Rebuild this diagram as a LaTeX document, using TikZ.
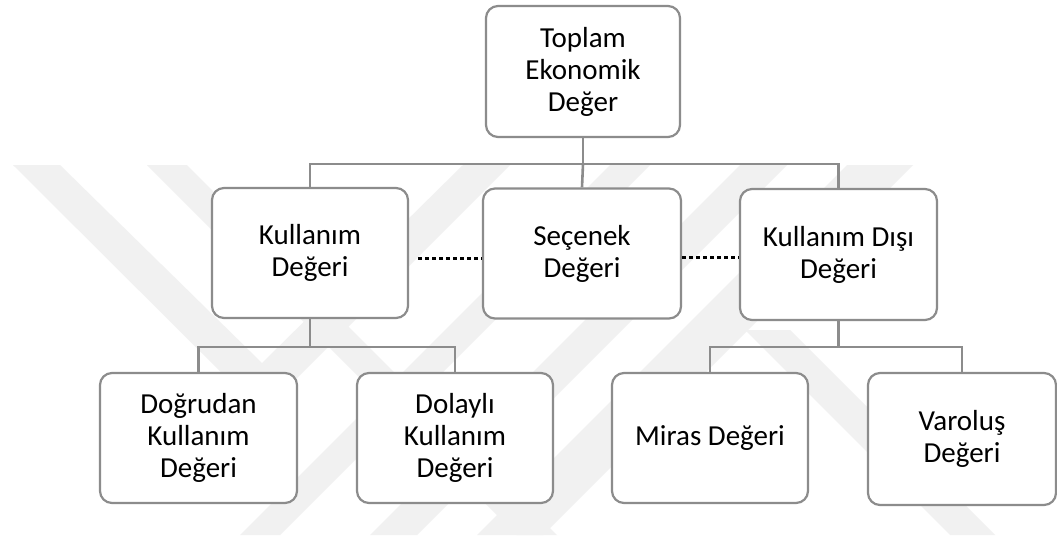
\documentclass[tikz,border=0pt]{standalone}
\usepackage{fontspec}
\setmainfont{Carlito}
\usetikzlibrary{calc}

\definecolor{boxline}{HTML}{8C8C8C}
\definecolor{wmark}{HTML}{F1F1F1}

\tikzset{
  box/.style={draw=boxline, line width=2.2pt, rounded corners=12pt, fill=white,
    minimum width=196pt, minimum height=130pt, align=center, inner sep=4pt,
    font=\fontsize{29}{32}\selectfont},
  conn/.style={draw=boxline, line width=2.6pt},
  link/.style={draw=black, line width=3pt, dash pattern=on 4pt off 3pt},
  band/.style={fill=wmark, draw=none}
}

\begin{document}
\begin{tikzpicture}[x=1pt,y=-1pt]
  \useasboundingbox (0,0) rectangle (1057,539);
  \fill[white] (0,0) rectangle (1057,539);

  % faint background emblem made of diagonal bands
  \begin{scope}
    \clip (0,165) rectangle (1057,535);
    \fill[band] (13,165) -- (60,165) -- (262,363) -- (463,165) -- (510,165) -- (262,413) -- cycle;
    \fill[band] (147,165) -- (187,165) -- (557,535) -- (517,535) -- cycle;
    \fill[band] (610,165) -- (650,165) -- (280,535) -- (240,535) -- cycle;
    \fill[band] (740,165) -- (787,165) -- (417,535) -- (370,535) -- cycle;
    \fill[band] (847,165) -- (913,165) -- (543,535) -- (477,535) -- cycle;
    \fill[band] (745,330) -- (790,330) -- (995,535) -- (950,535) -- cycle;
  \end{scope}

  % boxes
  \node[box, minimum width=194pt, minimum height=131pt] (top) at (583,71.5) {Toplam\\Ekonomik\\Değer};
  \node[box] (kul) at (310,253) {Kullanım\\Değeri};
  \node[box, minimum width=198pt] (sec) at (582,253.5) {Seçenek\\Değeri};
  \node[box, minimum width=197pt, minimum height=131pt] (dis) at (838.5,254.5) {Kullanım Dışı\\Değeri};
  \node[box, minimum width=197pt] (dog) at (198.5,438) {Doğrudan\\Kullanım\\Değeri};
  \node[box] (dol) at (455,438) {Dolaylı\\Kullanım\\Değeri};
  \node[box] (mir) at (710,438) {Miras Değeri};
  \node[box, minimum width=188pt, minimum height=132pt] (var) at (962,439) {Varoluş\\Değeri};

  % tree connectors
  \draw[conn] (top.south) -- ++(0,26) coordinate (b1);
  \draw[conn] (kul.north) |- (b1) -| (dis.north);
  \draw[conn] (b1) -- (sec.north);

  \draw[conn] (kul.south) -- ++(0,28) coordinate (b2);
  \draw[conn] (dog.north) |- (b2) -| (dol.north);

  \draw[conn] (dis.south) -- ++(0,26) coordinate (b3);
  \draw[conn] (mir.north) |- (b3) -| (var.north);

  % dotted links between the middle boxes
  \coordinate (l1) at ($(kul.east)+(9,5)$);
  \draw[link] (l1) -- (l1 -| sec.west);
  \coordinate (l2) at ($(sec.east)+(0,4)$);
  \draw[link] (l2) -- (l2 -| dis.west);
\end{tikzpicture}
\end{document}
